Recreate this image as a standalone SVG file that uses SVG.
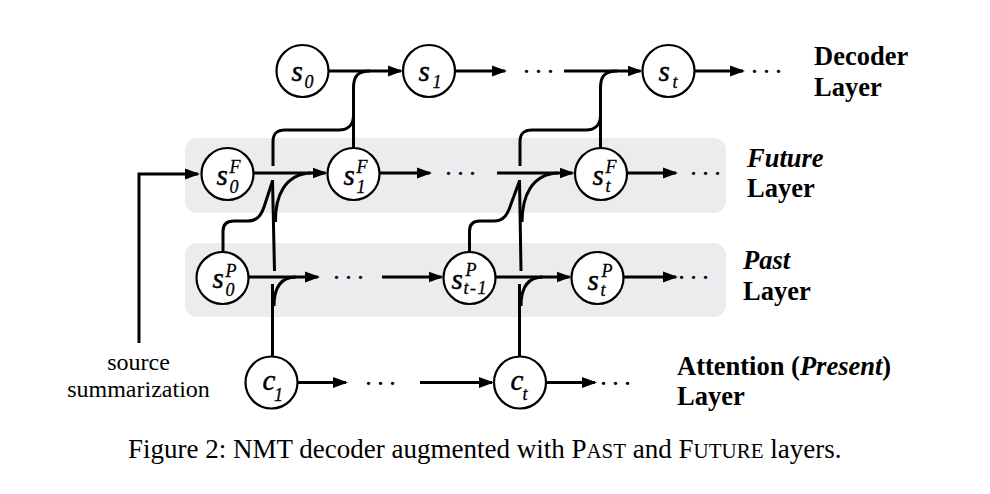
<svg xmlns="http://www.w3.org/2000/svg" width="990" height="494" viewBox="0 0 990 494">
<style>
.band{fill:#ececee;stroke:none}
.nd{fill:#fff;stroke:#000;stroke-width:2.2}
.ln{fill:none;stroke:#000;stroke-width:3}
.ar{fill:none;stroke:#000;stroke-width:3;marker-end:url(#ah)}
.v{font-family:"Liberation Serif",serif;font-style:italic;font-size:29px;fill:#000;stroke:#000;stroke-width:0.45}
.sc{font-family:"Liberation Serif",serif;font-style:italic;font-size:18px;fill:#000;stroke:#000;stroke-width:0.3}
.dots{font-family:"Liberation Serif",serif;font-size:28px;letter-spacing:5px;fill:#000}
.lab{font-family:"Liberation Serif",serif;font-weight:bold;font-size:26.5px;fill:#000}
.it{font-style:italic}
.src{font-family:"Liberation Serif",serif;font-size:24px;fill:#000;text-anchor:middle}
.cap{font-family:"Liberation Serif",serif;font-size:27px;fill:#000}
</style>
<defs>
<marker id="ah" markerUnits="userSpaceOnUse" markerWidth="16" markerHeight="12" refX="13" refY="6" orient="auto">
<path d="M0,0.5 L15,6 L0,11.5 z" fill="#000"/>
</marker>
</defs>
<rect fill="#fff" x="0" y="0" width="990" height="494"/>
<g id="bands">
<rect class="band" x="185" y="138" width="541" height="75" rx="12"/>
<rect class="band" x="185" y="243" width="541" height="74" rx="12"/>
</g>
<g id="connectors">
<path class="ar" d="M328.5,71 H401"/>
<path class="ar" d="M455,71 H505"/>
<path class="ar" d="M564,71 H640.5"/>
<path class="ar" d="M694.5,71 H743"/>
<path class="ln" d="M353.5,148 V88 C353.5,76 358,71 370,71"/>
<path class="ln" d="M273,166 V142 C273,134 276,130 285,130 H339 C348,130 353.5,125 353.5,115"/>
<path class="ln" d="M600.5,148 V88 C600.5,76 605,71 617,71"/>
<path class="ln" d="M520,166 V142 C520,134 523,130 532,130 H586 C595,130 600.5,125 600.5,115"/>
<path class="ar" d="M139,343 V174 H198"/>
<path class="ar" d="M253,173 H325.5"/>
<path class="ar" d="M379.5,173 H430"/>
<path class="ar" d="M497,173 H572.5"/>
<path class="ar" d="M627,173 H676"/>
<path class="ar" d="M248,277 H318"/>
<path class="ar" d="M382,277 H441.5"/>
<path class="ar" d="M496,277 H569.5"/>
<path class="ar" d="M623.5,277 H676"/>
<path class="ar" d="M297,382.5 H346"/>
<path class="ar" d="M420,382.5 H492"/>
<path class="ar" d="M546,382.5 H595"/>
<path class="ln" d="M272.5,357 V284"/>
<path class="ln" d="M274,306 C274,289 280,277 296,277"/>
<path class="ln" d="M274.5,271 L272.5,180"/>
<path class="ln" d="M275.5,222 C275,196 285,174 311,173"/>
<path class="ln" d="M223,252 V231 C223,224 227,221 234,221 H248 C258,221 262,214 265,204 L272.5,181"/>
<path class="ln" d="M519.5,357 V284"/>
<path class="ln" d="M521,306 C521,289 527,277 543,277"/>
<path class="ln" d="M521,271 L519.5,180"/>
<path class="ln" d="M522,222 C522,196 532,174 558,173"/>
<path class="ln" d="M469.5,252 V231 C469.5,224 473,221 480,221 H494 C504,221 508,214 511,204 L519.5,181"/>
</g>
<g id="n-s0"><circle class="nd" cx="302.5" cy="71" r="26"/><text class="v" x="291.5" y="81">s</text><text class="sc" x="304.5" y="88">0</text></g>
<g id="n-s1"><circle class="nd" cx="429" cy="71" r="26"/><text class="v" x="418.5" y="81">s</text><text class="sc" x="432.5" y="88">1</text></g>
<g id="n-st"><circle class="nd" cx="668.5" cy="71" r="26"/><text class="v" x="658.5" y="81">s</text><text class="sc" x="672.5" y="88">t</text></g>
<g id="n-s0F"><circle class="nd" cx="227.5" cy="174" r="26"/><text class="v" x="216.5" y="185">s</text><text class="sc" x="229.5" y="173">F</text><text class="sc" x="229.5" y="193">0</text></g>
<g id="n-s1F"><circle class="nd" cx="353.5" cy="174" r="26"/><text class="v" x="343.5" y="185">s</text><text class="sc" x="356.5" y="173">F</text><text class="sc" x="356.5" y="193">1</text></g>
<g id="n-stF"><circle class="nd" cx="601" cy="174" r="26"/><text class="v" x="592.5" y="185">s</text><text class="sc" x="605.5" y="173">F</text><text class="sc" x="605.5" y="192">t</text></g>
<g id="n-s0P"><circle class="nd" cx="222.5" cy="278" r="26"/><text class="v" x="212.5" y="288">s</text><text class="sc" x="225.5" y="277">P</text><text class="sc" x="225.5" y="296">0</text></g>
<g id="n-stm1P"><circle class="nd" cx="469.5" cy="278" r="26"/><text class="v" x="451.5" y="289">s</text><text class="sc" x="465.5" y="276" font-size="17px">P</text><text class="sc" x="463.5" y="294" font-size="17px" letter-spacing="1.5">t-1</text></g>
<g id="n-stP"><circle class="nd" cx="597.5" cy="278" r="26"/><text class="v" x="587.5" y="290">s</text><text class="sc" x="601.5" y="277">P</text><text class="sc" x="600.5" y="296">t</text></g>
<g id="n-c1"><circle class="nd" cx="271.5" cy="382.5" r="26"/><text class="v" x="262.5" y="390">c</text><text class="sc" x="274" y="401">1</text></g>
<g id="n-ct"><circle class="nd" cx="520" cy="382.5" r="26"/><text class="v" x="510.5" y="390">c</text><text class="sc" x="522.5" y="400">t</text></g>
<g id="dots">
<text class="dots" x="523" y="73">...</text>
<text class="dots" x="751" y="73">...</text>
<text class="dots" x="445" y="175">...</text>
<text class="dots" x="690" y="175">...</text>
<text class="dots" x="333" y="279">...</text>
<text class="dots" x="678" y="279">...</text>
<text class="dots" x="365" y="384.5">...</text>
<text class="dots" x="600" y="384.5">...</text>
</g>
<g id="labels">
<text class="lab" x="814" y="65">Decoder</text>
<text class="lab" x="814" y="96">Layer</text>
<text class="lab it" x="747" y="167">Future</text>
<text class="lab" x="747" y="197">Layer</text>
<text class="lab it" x="743" y="269">Past</text>
<text class="lab" x="743" y="300">Layer</text>
<text class="lab" x="677" y="375">Attention (<tspan class="it">Present</tspan>)</text>
<text class="lab" x="677" y="405">Layer</text>
<text class="src" x="138.5" y="370">source</text>
<text class="src" x="138.5" y="397">summarization</text>
</g>
<text class="cap" x="128" y="458">Figure 2: NMT decoder augmented with P<tspan font-size="21px">AST</tspan> and F<tspan font-size="21px">UTURE</tspan> layers.</text>
</svg>
